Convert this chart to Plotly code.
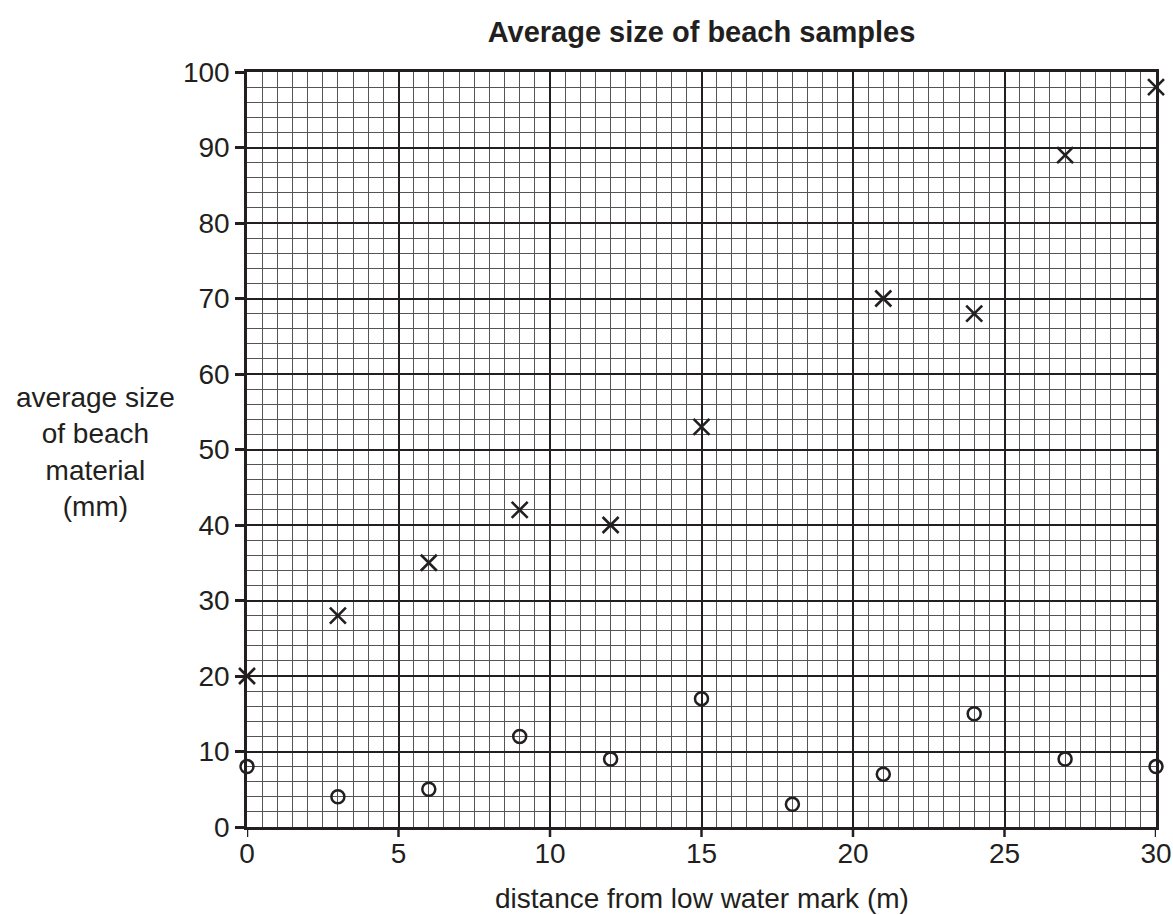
import plotly.graph_objects as go

# Data
cross_x = [0, 3, 6, 9, 12, 15, 21, 24, 27, 30]
cross_y = [20, 28, 35, 42, 40, 53, 70, 68, 89, 98]
circle_x = [0, 3, 6, 9, 12, 15, 18, 21, 24, 27, 30]
circle_y = [8, 4, 5, 12, 9, 17, 3, 7, 15, 9, 8]

x_ticks = [0, 5, 10, 15, 20, 25, 30]
y_ticks = [0, 10, 20, 30, 40, 50, 60, 70, 80, 90, 100]

title_text = "Average size of beach samples"
x_title = "distance from low water mark (m)"
y_title = "average size<br>of beach<br>material<br>(mm)"

INK = "#231f20"
FONT = "Liberation Sans, Arial, sans-serif"

W, H = 1173, 915
L, R, T, B = 247, 17, 72, 88

fig = go.Figure()
fig.add_trace(go.Scatter(
    x=cross_x, y=cross_y, mode="markers",
    marker=dict(symbol="x-thin-open", size=16, line=dict(width=2.6, color=INK), color=INK),
    cliponaxis=False, showlegend=False,
))
fig.add_trace(go.Scatter(
    x=circle_x, y=circle_y, mode="markers",
    marker=dict(symbol="circle-open", size=13, line=dict(width=2.5, color=INK), color=INK),
    cliponaxis=False, showlegend=False,
))

fig.update_layout(
    width=W, height=H,
    margin=dict(l=L, r=R, t=T, b=B, autoexpand=False),
    paper_bgcolor="white", plot_bgcolor="white",
    font=dict(family=FONT, size=28, color=INK),
    title=dict(text="<b>" + title_text + "</b>", x=0.5, xref="paper", xanchor="center",
               y=1 - 32 / H, yanchor="middle", font=dict(size=29, family=FONT, color=INK)),
)

grid_minor = "#555555"
fig.update_xaxes(
    range=[0, 30], tickvals=x_ticks, ticktext=[str(v) for v in x_ticks],
    showgrid=True, gridcolor=INK, gridwidth=1.8,
    minor=dict(dtick=0.5, tick0=0, showgrid=True, gridcolor=grid_minor, gridwidth=1, ticks=""),
    showline=True, linecolor=INK, linewidth=2.5, mirror=True,
    ticks="",
    zeroline=False, automargin=False, tickfont=dict(size=28, family=FONT, color=INK),
)
fig.update_yaxes(
    range=[0, 100], tickvals=y_ticks, ticktext=[str(v) for v in y_ticks],
    showgrid=True, gridcolor=INK, gridwidth=1.8,
    minor=dict(dtick=2, tick0=0, showgrid=True, gridcolor=grid_minor, gridwidth=1, ticks=""),
    showline=True, linecolor=INK, linewidth=2.5, mirror=True,
    ticks="outside", ticklen=9, tickwidth=2.5, tickcolor=INK,
    zeroline=False, automargin=False, tickfont=dict(size=28, family=FONT, color=INK),
)

# x tick marks below the axis (labels sit close to the axis as in the reference)
for v in x_ticks:
    fig.add_shape(
        type="line", xref="x", yref="paper", ysizemode="pixel", yanchor=0,
        x0=v, x1=v, y0=0, y1=-10,
        line=dict(color=INK, width=2.5), layer="above",
    )

pw = W - L - R
ph = H - T - B
fig.add_annotation(
    text=x_title, xref="paper", yref="paper",
    x=0.5, y=-(898 - (T + ph)) / ph,
    xanchor="center", yanchor="middle", showarrow=False,
    font=dict(size=28, family=FONT, color=INK),
)
fig.add_annotation(
    text=y_title, xref="paper", yref="paper",
    x=(95 - L) / pw, y=(T + ph - 452) / ph,
    xanchor="center", yanchor="middle", align="center", showarrow=False,
    font=dict(size=28, family=FONT, color=INK),
)

fig.write_html(
    "out.html",
    config={"displayModeBar": False},
    post_script="document.body.style.margin='0';document.body.style.overflow='hidden';",
)
